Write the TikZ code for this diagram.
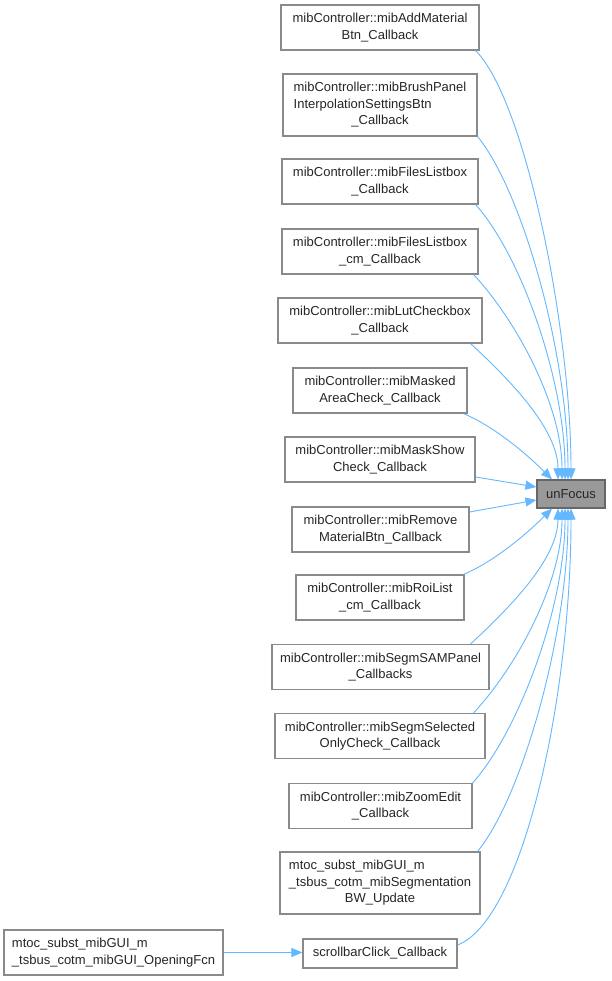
\documentclass[tikz,border=0pt]{standalone}
\usepackage{fontspec}
\setmainfont{Liberation Sans}
\usetikzlibrary{arrows.meta}
\definecolor{edgeblue}{HTML}{63B8FF}
\definecolor{boxborder}{HTML}{8A8A8A}
\definecolor{curfill}{HTML}{999999}
\definecolor{curborder}{HTML}{666666}
\begin{document}
\begin{tikzpicture}[x=1pt,y=-1pt,
  box/.style={draw=boxborder, line width=1.2pt, fill=white, inner sep=0pt, align=center,
    font=\fontsize{13}{16.5}\selectfont, text=black!85},
  cur/.style={box, fill=curfill, draw=curborder},
  edge/.style={draw=edgeblue, line width=0.9pt, -{Triangle[length=11pt,width=9pt]}}]
\useasboundingbox (0,0) rectangle (611,981);
\fill[white] (0,0) rectangle (611,981);

\node[box, minimum width=198pt, minimum height=45pt] (n1) at (380,27.5) {mibController::mibAddMaterial\\Btn\_Callback};
\node[box, minimum width=194pt, minimum height=62pt] (n2) at (380,105) {\begin{tabular}{@{}l@{}}mibController::mibBrushPanel\\InterpolationSettingsBtn\\\multicolumn{1}{@{}c@{}}{\_Callback}\end{tabular}};
\node[box, minimum width=196pt, minimum height=45pt] (n3) at (380,181.5) {mibController::mibFilesListbox\\\_Callback};
\node[box, minimum width=196pt, minimum height=45pt] (n4) at (380,251.5) {mibController::mibFilesListbox\\\_cm\_Callback};
\node[box, minimum width=204pt, minimum height=45pt] (n5) at (380,320.5) {mibController::mibLutCheckbox\\\_Callback};
\node[box, minimum width=174pt, minimum height=45pt] (n6) at (380,390.5) {mibController::mibMasked\\AreaCheck\_Callback};
\node[box, minimum width=190pt, minimum height=45pt] (n7) at (380,459.5) {mibController::mibMaskShow\\Check\_Callback};
\node[box, minimum width=177pt, minimum height=45pt] (n8) at (380.5,529.5) {mibController::mibRemove\\MaterialBtn\_Callback};
\node[box, minimum width=168pt, minimum height=45pt] (n9) at (380,597.5) {mibController::mibRoiList\\\_cm\_Callback};
\node[box, minimum width=217pt, minimum height=45pt] (n10) at (380.5,667) {mibController::mibSegmSAMPanel\\\_Callbacks};
\node[box, minimum width=210pt, minimum height=45pt] (n11) at (380,736) {mibController::mibSegmSelected\\OnlyCheck\_Callback};
\node[box, minimum width=183pt, minimum height=45pt] (n12) at (380.5,806) {mibController::mibZoomEdit\\\_Callback};
\node[box, minimum width=200pt, minimum height=62pt] (n13) at (380,883) {\begin{tabular}{@{}l@{}}mtoc\_subst\_mibGUI\_m\\\_tsbus\_cotm\_mibSegmentation\\\multicolumn{1}{@{}c@{}}{BW\_Update}\end{tabular}};
\node[box, minimum width=154pt, minimum height=29pt] (n14) at (380,953.5) {scrollbarClick\_Callback};
\node[box, minimum width=219pt, minimum height=45pt] (n15) at (113.5,952.5) {\begin{tabular}{@{}l@{}}mtoc\_subst\_mibGUI\_m\\\_tsbus\_cotm\_mibGUI\_OpeningFcn\end{tabular}};
\node[cur, minimum width=68pt, minimum height=28pt] (uf) at (571,494) {unFocus};

% upper group
\draw[edge] ([xshift=-4pt]n1.south east) .. controls +(50,50) and +(0,-150) .. (uf.north);
\draw[edge] (n2.south east) .. controls +(45,55) and +(0,-125) .. ([xshift=-3pt]uf.north);
\draw[edge] ([xshift=-3pt]n3.south east) .. controls +(45,50) and +(0,-100) .. ([xshift=-6pt]uf.north);
\draw[edge] ([xshift=-5pt]n4.south east) .. controls +(42,45) and +(0,-75) .. ([xshift=-9pt]uf.north);
\draw[edge] ([xshift=-12pt]n5.south east) .. controls +(40,37) and +(0,-50) .. ([xshift=-13pt]uf.north);
\draw[edge] ([xshift=-4pt]n6.south east) .. controls +(35,15) and +(-20,-20) .. ([xshift=-19pt]uf.north);
% side
\draw[edge] ([yshift=-17.5pt]n7.east) -- ([yshift=7pt]uf.west);
\draw[edge] ([yshift=17.5pt]n8.east) -- ([yshift=-6pt]uf.west);
% lower group
\draw[edge] ([xshift=-1pt]n9.north east) .. controls +(35,-15) and +(-20,20) .. ([xshift=-19pt]uf.south);
\draw[edge] ([xshift=-19pt]n10.north east) .. controls +(40,-37) and +(0,50) .. ([xshift=-13pt]uf.south);
\draw[edge] ([xshift=-12pt]n11.north east) .. controls +(42,-45) and +(0,75) .. ([xshift=-9pt]uf.south);
\draw[edge] (n12.north east) .. controls +(45,-50) and +(0,100) .. ([xshift=-6pt]uf.south);
\draw[edge] ([xshift=-3pt]n13.north east) .. controls +(45,-55) and +(0,125) .. ([xshift=-3pt]uf.south);
\draw[edge] ([yshift=8.5pt]n14.east) .. controls +(65,-25) and +(0,190) .. (uf.south);
% left
\draw[edge] (n15.east) -- (n15.east -| n14.west);
\end{tikzpicture}
\end{document}
